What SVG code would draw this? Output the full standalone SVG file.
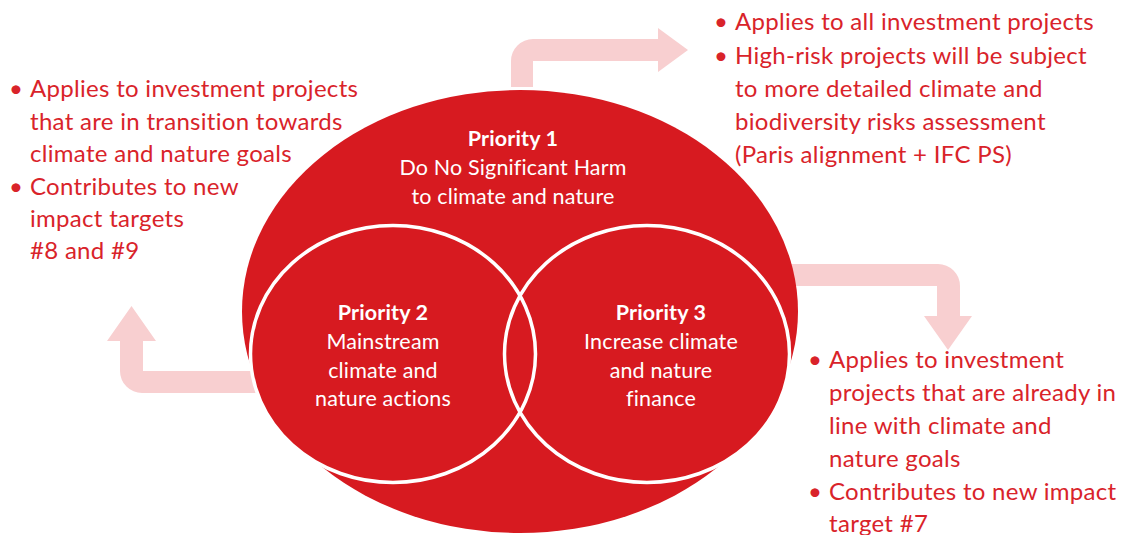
<svg xmlns="http://www.w3.org/2000/svg" width="1126" height="535" viewBox="0 0 1126 535">
<style>
.arrow{fill:#F8CFD0;stroke:none}
.red{fill:#D71A20}
.ring{fill:none;stroke:#FFFFFF;stroke-width:3.5}
.in{font-family:Lato,"Liberation Sans",sans-serif;font-size:21.5px;letter-spacing:0.15px;fill:#FFFFFF;text-anchor:middle;font-variant-ligatures:none}
.inb{font-weight:bold}
.note{font-family:Lato,"Liberation Sans",sans-serif;font-size:24px;letter-spacing:0.3px;fill:#D9232A;font-variant-ligatures:none}
</style>
<rect width="1126" height="535" fill="#FFFFFF"/>
<g id="connectors">
<path class="arrow" d="M511,87 V61 A22,22 0 0 1 533,39 H658 V28 L688,50 L658,72 V61 H533 V87 Z"/>
<path class="arrow" d="M258,371 H143 V341 H156 L131.5,306 L107,341 H120 V371 A22,22 0 0 0 142,393 H258 Z"/>
<path class="arrow" d="M785,264 H938 A22,22 0 0 1 960,286 V316 H972 L948,350 L924,316 H937 V286 H785 Z"/>
</g>
<g id="priority1">
<ellipse class="red" cx="520" cy="311.5" rx="278" ry="221.5"/>
<ellipse class="red" cx="393" cy="354" rx="142.5" ry="128.5"/>
<ellipse class="red" cx="647" cy="354" rx="142.5" ry="128.5"/>
<text class="in inb" x="513" y="146">Priority 1</text>
<text class="in" x="513" y="175">Do No Significant Harm</text>
<text class="in" x="513" y="204">to climate and nature</text>
</g>
<g id="priority2">
<ellipse class="ring" cx="393" cy="354" rx="142.5" ry="128.5"/>
<text class="in inb" x="383" y="320">Priority 2</text>
<text class="in" x="383" y="349">Mainstream</text>
<text class="in" x="383" y="377.5">climate and</text>
<text class="in" x="383" y="406">nature actions</text>
</g>
<g id="priority3">
<ellipse class="ring" cx="647" cy="354" rx="142.5" ry="128.5"/>
<text class="in inb" x="661" y="320">Priority 3</text>
<text class="in" x="661" y="349">Increase climate</text>
<text class="in" x="661" y="377.5">and nature</text>
<text class="in" x="661" y="406">finance</text>
</g>
<g id="note-left">
<text class="note" x="9" y="97">•</text>
<text class="note" x="30" y="97">Applies to investment projects</text>
<text class="note" x="30" y="129.5">that are in transition towards</text>
<text class="note" x="30" y="162">climate and nature goals</text>
<text class="note" x="9" y="195">•</text>
<text class="note" x="30" y="195">Contributes to new</text>
<text class="note" x="30" y="227">impact targets</text>
<text class="note" x="30" y="259">#8 and #9</text>
</g>
<g id="note-top">
<text class="note" x="714" y="30">•</text>
<text class="note" x="735" y="30">Applies to all investment projects</text>
<text class="note" x="714" y="64">•</text>
<text class="note" x="735" y="64">High-risk projects will be subject</text>
<text class="note" x="735" y="97">to more detailed climate and</text>
<text class="note" x="735" y="130">biodiversity risks assessment</text>
<text class="note" x="735" y="163">(Paris alignment + IFC PS)</text>
</g>
<g id="note-right">
<text class="note" x="808" y="368">•</text>
<text class="note" x="829" y="368">Applies to investment</text>
<text class="note" x="829" y="401">projects that are already in</text>
<text class="note" x="829" y="434">line with climate and</text>
<text class="note" x="829" y="467">nature goals</text>
<text class="note" x="808" y="500">•</text>
<text class="note" x="829" y="500">Contributes to new impact</text>
<text class="note" x="829" y="532">target #7</text>
</g>
</svg>
